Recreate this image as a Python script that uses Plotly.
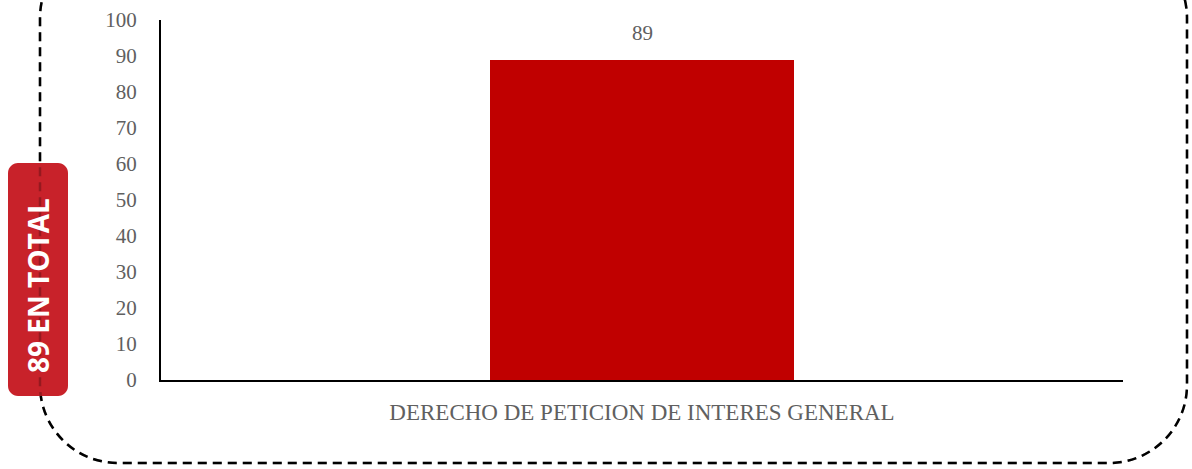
import plotly.graph_objects as go

categories = ["DERECHO DE PETICION DE INTERES GENERAL"]
values = [89]
y_ticks = [0, 10, 20, 30, 40, 50, 60, 70, 80, 90, 100]
badge_text = "89 EN TOTAL"

W, H = 1192, 469
L, R, T, B = 161, 1123, 20, 380


def px(X):
    return (X - L) / (R - L)


def py(Y):
    return (B - Y) / (B - T)


def rounded_path(x0, y0, x1, y1, r):
    # pixel coords, y0 top, y1 bottom
    k = 0.5523 * r
    pts = []
    pts.append(f"M {px(x0 + r)},{py(y0)}")
    pts.append(f"L {px(x1 - r)},{py(y0)}")
    pts.append(f"C {px(x1 - r + k)},{py(y0)} {px(x1)},{py(y0 + r - k)} {px(x1)},{py(y0 + r)}")
    pts.append(f"L {px(x1)},{py(y1 - r)}")
    pts.append(f"C {px(x1)},{py(y1 - r + k)} {px(x1 - r + k)},{py(y1)} {px(x1 - r)},{py(y1)}")
    pts.append(f"L {px(x0 + r)},{py(y1)}")
    pts.append(f"C {px(x0 + r - k)},{py(y1)} {px(x0)},{py(y1 - r + k)} {px(x0)},{py(y1 - r)}")
    pts.append(f"L {px(x0)},{py(y0 + r)}")
    pts.append(f"C {px(x0)},{py(y0 + r - k)} {px(x0 + r - k)},{py(y0)} {px(x0 + r)},{py(y0)}")
    pts.append("Z")
    return " ".join(pts)


fig = go.Figure()
fig.add_trace(go.Bar(
    x=categories, y=values, marker=dict(color="#C00000", line=dict(width=0)),
    width=0.315, hoverinfo="skip",
))

for c, v in zip(categories, values):
    fig.add_annotation(
        x=c, y=v, text=str(v), showarrow=False, yanchor="bottom", yshift=13,
        font=dict(family="Liberation Serif", size=21, color="#606060"),
    )

frame_path = rounded_path(40, -60, 1187, 463, 78)
# dashed rounded frame
fig.add_shape(
    type="path", xref="paper", yref="paper", path=frame_path,
    line=dict(color="black", width=2.5, dash="9px,6px"),
    fillcolor="rgba(0,0,0,0)", layer="above",
)
# red badge
fig.add_shape(
    type="path", xref="paper", yref="paper",
    path=rounded_path(8, 163, 68, 396, 10),
    line=dict(width=0), fillcolor="#C8222A", layer="above",
)
# faint frame through the badge
fig.add_shape(
    type="path", xref="paper", yref="paper", path=frame_path,
    line=dict(color="rgba(0,0,0,0.25)", width=2.5, dash="9px,6px"),
    fillcolor="rgba(0,0,0,0)", layer="above",
)
fig.add_annotation(
    x=px(38), y=py(286), xref="paper", yref="paper", text=f"<b>{badge_text}</b>",
    textangle=-90, showarrow=False, xanchor="center", yanchor="middle",
    font=dict(family="Open Sans", size=28, color="white"),
)

fig.update_layout(
    width=W, height=H, margin=dict(l=L, r=W - R, t=T, b=H - B, autoexpand=False),
    paper_bgcolor="white", plot_bgcolor="white", showlegend=False,
    bargap=0,
)
fig.update_xaxes(
    showline=True, linecolor="black", linewidth=2, showgrid=False, zeroline=False,
    ticks="", ticklabelstandoff=10, automargin=False,
    tickfont=dict(family="Liberation Serif", size=23, color="#606060"),
)
fig.update_yaxes(
    range=[0, 100], tickvals=y_ticks, showline=True, linecolor="black", linewidth=2,
    showgrid=False, zeroline=False, ticks="", ticklabelstandoff=18, automargin=False,
    tickfont=dict(family="Liberation Serif", size=21, color="#606060"),
)

fig.write_html(
    "out.html",
    config={"displayModeBar": False},
    post_script="document.body.style.margin='0';document.body.style.overflow='hidden';",
)
